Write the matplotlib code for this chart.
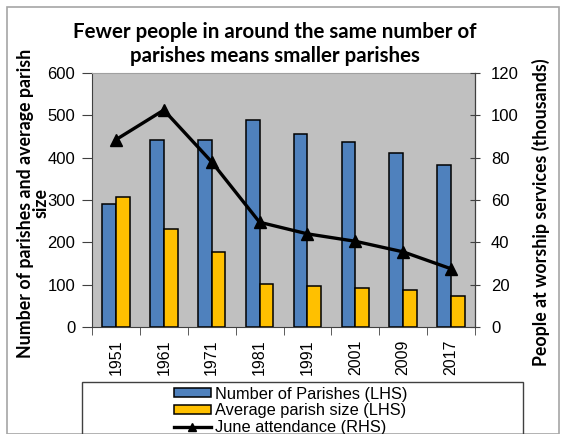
import numpy as np
import matplotlib.pyplot as plt
from matplotlib.patches import Rectangle, Patch
from matplotlib.lines import Line2D

years = ["1951", "1961", "1971", "1981", "1991", "2001", "2009", "2017"]
parishes = [290, 442, 442, 489, 455, 437, 410, 382]
avg_size = [307, 231, 177, 102, 98, 93, 88, 74]
attendance = [88.5, 102.5, 78, 49.5, 44, 40.5, 35.5, 27.5]

W, H = 563, 434
fig = plt.figure(figsize=(W / 100, H / 100), dpi=100)

# outer chart frame
fig.patches.append(Rectangle((7 / W, 0), (559 - 7) / W, (H - 7) / H,
                             transform=fig.transFigure, fill=False,
                             edgecolor="#a6a6a6", lw=1.2))

ax = fig.add_axes([92 / W, (H - 327) / H, 383 / W, 254 / H])
ax.set_facecolor("#c0c0c0")
ax2 = ax.twinx()

x = np.arange(len(years))
bw = 0.286
ax.bar(x - bw / 2, parishes, bw, color="#4f81bd", edgecolor="black", lw=1.1, zorder=2)
ax.bar(x + bw / 2, avg_size, bw, color="#ffc000", edgecolor="black", lw=1.1, zorder=2)
ax2.plot(x, attendance, color="black", lw=2.4, marker="^", ms=8, zorder=3)

ax.set_xlim(-0.5, len(years) - 0.5)
ax.set_ylim(0, 600)
ax2.set_ylim(0, 120)
ax.set_yticks(range(0, 601, 100))
ax2.set_yticks(range(0, 121, 20))

ax.set_xticks(x)
ax.set_xticklabels(years, rotation=90, fontsize=11.5, family="Liberation Sans")
ax.set_xticks(np.arange(-0.5, len(years)), minor=True)
ax.tick_params(axis="x", which="major", length=0, pad=9)
ax.tick_params(axis="x", which="minor", length=6, direction="out", color="#404040")
ax.tick_params(axis="y", length=7, direction="out", color="#404040", labelsize=12, pad=5)
ax2.tick_params(axis="y", length=7, direction="inout", color="#404040", labelsize=12, pad=8)
for t in ax.get_yticklabels() + ax2.get_yticklabels():
    t.set_family("Liberation Sans")

for s in ("left", "bottom"):
    ax.spines[s].set_color("#404040")
ax.spines["top"].set_color("#a0a0a0")
ax2.spines["right"].set_color("#404040")
ax2.spines["top"].set_visible(False)
ax2.spines["left"].set_visible(False)
ax2.spines["bottom"].set_visible(False)

fig.text(275 / W, 1 - 44 / H,
         "Fewer people in around the same number of\nparishes means smaller parishes",
         ha="center", va="center", fontsize=14.8, fontweight="bold",
         family="Lato", linespacing=1.2)

fig.text(33 / W, 1 - 203 / H, "Number of parishes and average parish\nsize",
         rotation=90, ha="center", va="center", fontsize=12.8,
         fontweight="bold", family="Lato", linespacing=0.9)
fig.text(541 / W, 1 - 212 / H, "People at worship services (thousands)",
         rotation=90, ha="center", va="center", fontsize=12.8,
         fontweight="bold", family="Lato")

# legend box runs off the bottom edge
fig.patches.append(Rectangle((82 / W, -20 / H), (523 - 82) / W, (H - 382 + 20) / H,
                             transform=fig.transFigure, fill=False,
                             edgecolor="#404040", lw=1.0))
handles = [
    Patch(facecolor="#4f81bd", edgecolor="black", lw=1.1),
    Patch(facecolor="#ffc000", edgecolor="black", lw=1.1),
    Line2D([], [], color="black", lw=2.4, marker="^", ms=6),
]
labels = ["Number of Parishes (LHS)", "Average parish size (LHS)", "June attendance (RHS)"]
fig.legend(handles, labels, loc="upper left", bbox_to_anchor=(172 / W, 1 - 385 / H),
           frameon=False, prop={"family": "Liberation Sans", "size": 11.8},
           handlelength=2.3, handleheight=0.5, handletextpad=0.2,
           labelspacing=0.1, borderaxespad=0, borderpad=0.1)

fig.savefig("out.png", dpi=100)
